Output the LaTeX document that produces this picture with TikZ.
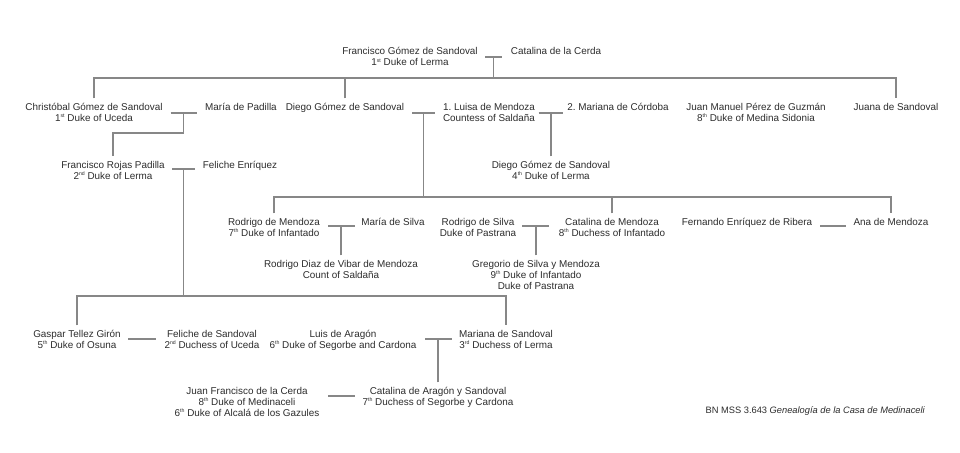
\documentclass[tikz,border=0pt]{standalone}
\usepackage{fontspec}
\setmainfont{Liberation Sans}
\usetikzlibrary{calc}
\definecolor{txt}{RGB}{45,45,45}
\definecolor{ln}{RGB}{135,135,135}
\newcommand\sups[1]{\raisebox{3.4pt}{\fontsize{5.2}{5.2}\selectfont #1}}
\newcommand\lns[1]{\begin{tabular}[t]{@{}c@{}}#1\end{tabular}}
\frenchspacing
\begin{document}
\begin{tikzpicture}[x=1pt,y=-1pt,
  person/.style={inner sep=0pt, outer sep=0pt, anchor=base, font=\fontsize{9.9}{11}\selectfont, text=txt},
  link/.style={draw=ln, line width=1.1pt},
  drop/.style={yshift=4pt}]
\path[fill=white,use as bounding box] (0,0) rectangle (960,452);

% ---- generation 1
\node[person] (fr)  at (410,55) {\lns{Francisco Gómez de Sandoval\\1\sups{st} Duke of Lerma}};
\node[person] (cat) at (556,55) {\lns{Catalina de la Cerda}};

% ---- generation 2
\node[person] (chr)  at (94,110)  {\lns{Christóbal Gómez de Sandoval\\1\sups{st} Duke of Uceda}};
\node[person] (mpad) at (241,110) {\lns{María de Padilla}};
\node[person] (dgs)  at (345,110) {\lns{Diego Gómez de Sandoval}};
\node[person] (lui)  at (489,110) {\lns{1. Luisa de Mendoza\\Countess of Saldaña}};
\node[person] (mco)  at (618,110) {\lns{2. Mariana de Córdoba}};
\node[person] (jmp)  at (756,110) {\lns{Juan Manuel Pérez de Guzmán\\8\sups{th} Duke of Medina Sidonia}};
\node[person] (jua)  at (896,110) {\lns{Juana de Sandoval}};

% ---- generation 3
\node[person] (frp) at (113,168) {\lns{Francisco Rojas Padilla\\2\sups{nd} Duke of Lerma}};
\node[person] (fen) at (240,168) {\lns{Feliche Enríquez}};
\node[person] (dg4) at (551,168) {\lns{Diego Gómez de Sandoval\\4\sups{th} Duke of Lerma}};

% ---- generation 4
\node[person] (rme) at (274,225) {\lns{Rodrigo de Mendoza\\7\sups{th} Duke of Infantado}};
\node[person] (msi) at (393,225) {\lns{María de Silva}};
\node[person] (rsi) at (478,225) {\lns{Rodrigo de Silva\\Duke of Pastrana}};
\node[person] (cme) at (612,225) {\lns{Catalina de Mendoza\\8\sups{th} Duchess of Infantado}};
\node[person] (fer) at (747,225) {\lns{Fernando Enríquez de Ribera}};
\node[person] (ame) at (891,225) {\lns{Ana de Mendoza}};

% ---- generation 5
\node[person] (rdv) at (341,267) {\lns{Rodrigo Diaz de Vibar de Mendoza\\Count of Saldaña}};
\node[person] (gre) at (536,267) {\lns{Gregorio de Silva y Mendoza\\9\sups{th} Duke of Infantado\\Duke of Pastrana}};

% ---- generation 6
\node[person] (gas) at (77,337)  {\lns{Gaspar Tellez Girón\\5\sups{th} Duke of Osuna}};
\node[person] (fes) at (212,337) {\lns{Feliche de Sandoval\\2\sups{nd} Duchess of Uceda}};
\node[person] (lar) at (343,337) {\lns{Luis de Aragón\\6\sups{th} Duke of Segorbe and Cardona}};
\node[person] (mas) at (506,337) {\lns{Mariana de Sandoval\\3\sups{rd} Duchess of Lerma}};

% ---- generation 7
\node[person] (jfc) at (247,394) {\lns{Juan Francisco de la Cerda\\8\sups{th} Duke of Medinaceli\\6\sups{th} Duke of Alcalá de los Gazules}};
\node[person] (cas) at (438,394) {\lns{Catalina de Aragón y Sandoval\\7\sups{th} Duchess of Segorbe y Cardona}};

% ---- source
\node[person, anchor=base east, font=\fontsize{9.3}{11}\selectfont] (src) at (925,413) {BN MSS 3.643 \textit{Genealogía de la Casa de Medinaceli}};

% ---- unions (marriage bars)
\coordinate (u1)  at (493.5,57);
\coordinate (u2)  at (183.5,113);
\coordinate (u3)  at (423.5,113);
\coordinate (u4)  at (550.5,113);
\coordinate (u5)  at (183.5,169);
\coordinate (u6)  at (341.5,226);
\coordinate (u7)  at (535.5,226);
\coordinate (u8)  at (833,226);
\coordinate (u9)  at (142,339);
\coordinate (u10) at (438.5,339);
\coordinate (u11) at (341.5,396);

\draw[link] ([xshift=-8.5pt]u1) -- ([xshift=8.5pt]u1);
\draw[link] ([xshift=-13pt]u2) -- ([xshift=13pt]u2);
\draw[link] ([xshift=-11.5pt]u3) -- ([xshift=11.5pt]u3);
\draw[link] ([xshift=-12pt]u4) -- ([xshift=12.5pt]u4);
\draw[link] ([xshift=-11.5pt]u5) -- ([xshift=11.5pt]u5);
\draw[link] ([xshift=-13.5pt]u6) -- ([xshift=13.5pt]u6);
\draw[link] ([xshift=-13.5pt]u7) -- ([xshift=13.5pt]u7);
\draw[link] ([xshift=-13pt]u8) -- ([xshift=13pt]u8);
\draw[link] ([xshift=-14pt]u9) -- ([xshift=14pt]u9);
\draw[link] ([xshift=-13.5pt]u10) -- ([xshift=13.5pt]u10);
\draw[link] ([xshift=-13.5pt]u11) -- ([xshift=13.5pt]u11);

% ---- descent lines
\coordinate (b1) at (493.5,78);
\draw[link] (u1) -- (b1);
\draw[link] ([drop]chr.north) |- (b1) -| ([drop]jua.north);
\draw[link] ([drop]dgs.north) -- (dgs.north |- b1);

\coordinate (k2) at (183.5,133);
\draw[link] (u2) -- (k2) -| ([drop]frp.north);

\coordinate (b3) at (423.5,197);
\draw[link] (u3) -- (b3);
\draw[link] ([drop]rme.north) |- (b3) -| ([drop]ame.north);
\draw[link] ([drop]cme.north) -- (cme.north |- b3);

\draw[link] ([drop]dg4.north) -- (dg4.north |- u4);

\coordinate (b5) at (183.5,296);
\draw[link] (u5) -- (b5);
\draw[link] ([drop]gas.north) |- (b5) -| ([drop]mas.north);

\draw[link] ([drop]rdv.north) -- (rdv.north |- u6);
\draw[link] ([drop]gre.north) -- (gre.north |- u7);
\draw[link] ([drop]cas.north) -- (cas.north |- u10);
\end{tikzpicture}
\end{document}
